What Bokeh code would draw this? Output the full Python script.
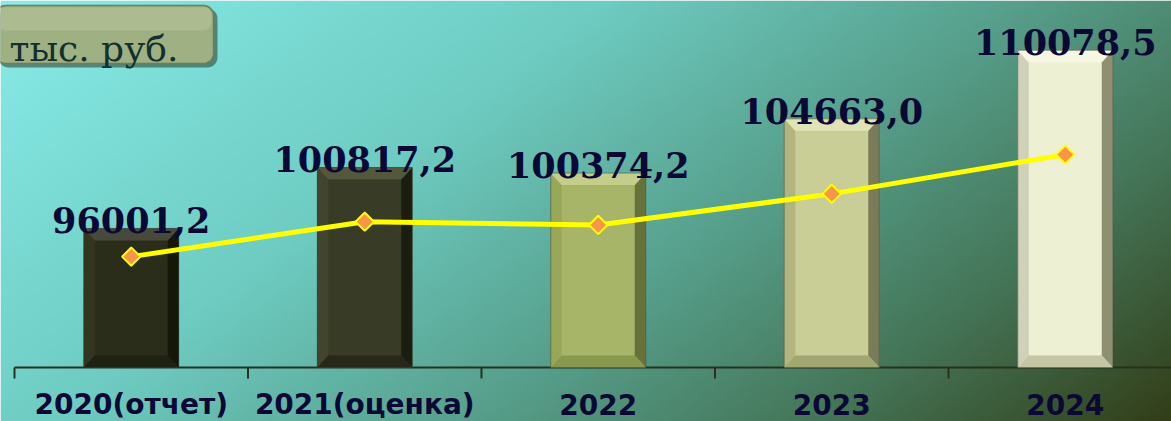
import numpy as np
from bokeh.plotting import figure
from bokeh.models import Range1d, ColumnDataSource
from bokeh.core.properties import value
from bokeh.embed import file_html
from bokeh.resources import INLINE

# ---------------- data ----------------
categories = ["2020(отчет)", "2021(оценка)", "2022", "2023", "2024"]
bar_values = [96001.2, 100817.2, 100374.2, 104663.0, 110078.5]
line_values = [96001.2, 100817.2, 100374.2, 104663.0, 110078.5]
unit_label = "тыс. руб."

# ---------------- styles ----------------
face_c = ["#2b2d1b", "#383c26", "#a7b568", "#c9cd96", "#eef0d3"]
top_c = ["#47493a", "#53573b", "#c4ce8a", "#e0e3b4", "#f7f8e4"]
left_c = ["#33351f", "#41452d", "#98a758", "#b2b67e", "#cfd1b8"]
right_c = ["#16170b", "#1b1d0f", "#66723a", "#7a7c58", "#8f8f72"]
bot_c = ["#1f2112", "#27281a", "#8a984e", "#a2a670", "#c4c6a4"]

W, H = 1171, 421
XPX = 233.5            # pixels per category
X0 = -130.75 / XPX
X1 = X0 + W / XPX
BASE = 85000.0         # value axis minimum
YPX = 79.08            # value units per pixel
BASE_PY = 367          # pixel row of the axis
Y1 = BASE + BASE_PY * YPX
Y0 = BASE - (H - BASE_PY) * YPX
BASE2 = 80700.0
Y2PX = 138.0
Y2_1 = BASE2 + BASE_PY * Y2PX
Y2_0 = BASE2 - (H - BASE_PY) * Y2PX

def px2x(px):
    return X0 + px / XPX

def py2y(py):
    return Y1 - py * YPX

p = figure(width=W, height=H, x_range=Range1d(X0, X1), y_range=Range1d(Y0, Y1),
           x_axis_type=None, y_axis_type=None, toolbar_location=None,
           output_backend="svg", min_border=0)
p.extra_y_ranges = {"line": Range1d(Y2_0, Y2_1)}
p.outline_line_color = None
p.background_fill_color = None
p.border_fill_color = None

# ---------------- background gradient ----------------
nx, ny = 390, 140
u = np.linspace(0, 1, nx)[None, :]
v = np.linspace(1, 0, ny)[:, None]   # row 0 is bottom
t = np.clip(0.68 * u + 0.32 * v, 0, 1)
stops_t = [0.0, 0.35, 0.6, 0.8, 1.0]
stops_c = np.array([[136, 236, 232], [110, 204, 194], [86, 158, 138],
                    [68, 116, 86], [50, 62, 24]], dtype=float)
img = np.zeros((ny, nx), dtype=np.uint32)
view = img.view(dtype=np.uint8).reshape((ny, nx, 4))
for k in range(3):
    view[:, :, k] = np.interp(t, stops_t, stops_c[:, k]).astype(np.uint8)
view[:, :, 3] = 255
p.image_rgba(image=[img], x=X0, y=Y0, dw=X1 - X0, dh=Y1 - Y0)

# ---------------- axis ----------------
p.segment(x0=[-0.5], y0=[BASE], x1=[X1], y1=[BASE], line_color="#28301e", line_width=2)
ticks = [i - 0.5 for i in range(len(categories) + 1)]
p.segment(x0=ticks, y0=[BASE] * len(ticks), x1=ticks, y1=[BASE - 11 * YPX] * len(ticks),
          line_color="#28301e", line_width=2)

# ---------------- bars (bevelled) ----------------
bw = 95 / XPX
bx = 11 / XPX
by = 12 * YPX
xs_t, ys_t, xs_b, ys_b, xs_l, ys_l, xs_r, ys_r = [], [], [], [], [], [], [], []
for i, val in enumerate(bar_values):
    x0, x1, y0, y1 = i - bw / 2, i + bw / 2, BASE, val
    xs_t.append([x0, x1, x1 - bx, x0 + bx]); ys_t.append([y1, y1, y1 - by, y1 - by])
    xs_b.append([x0, x1, x1 - bx, x0 + bx]); ys_b.append([y0, y0, y0 + by, y0 + by])
    xs_l.append([x0, x0, x0 + bx, x0 + bx]); ys_l.append([y0, y1, y1 - by, y0 + by])
    xs_r.append([x1, x1, x1 - bx, x1 - bx]); ys_r.append([y0, y1, y1 - by, y0 + by])
idx = list(range(len(bar_values)))
p.quad(left=[i - bw / 2 for i in idx], right=[i + bw / 2 for i in idx],
       bottom=[BASE] * len(idx), top=bar_values, fill_color=face_c, line_color=None)
p.patches(xs_l, ys_l, fill_color=left_c, line_color=None)
p.patches(xs_r, ys_r, fill_color=right_c, line_color=None)
p.patches(xs_b, ys_b, fill_color=bot_c, line_color=None)
p.patches(xs_t, ys_t, fill_color=top_c, line_color=None)
p.quad(left=[i - bw / 2 for i in idx], right=[i + bw / 2 for i in idx],
       bottom=[BASE] * len(idx), top=bar_values, fill_color=None,
       line_color="#3a4030", line_alpha=0.5, line_width=1)

# ---------------- line ----------------
p.line(idx, line_values, y_range_name="line", line_color="#ffff00", line_width=5)
p.scatter(idx, line_values, y_range_name="line", marker="square", angle=np.pi / 4,
          size=13, fill_color="#f79646", line_color="#ffff00", line_width=2)

# ---------------- value labels ----------------
lab = ColumnDataSource(dict(x=idx, y=[vv + 8 * YPX for vv in bar_values],
                            t=[f"{vv:.1f}".replace(".", ",") for vv in bar_values]))
p.text(x="x", y="y", text="t", source=lab, text_font=value("DejaVu Serif"),
       text_font_style="bold", text_font_size="35px", text_align="center",
       text_baseline="alphabetic", text_color="#0c0836")

# ---------------- category labels ----------------
p.text(x=idx, y=[py2y(404)] * len(idx), text=categories, text_font=value("DejaVu Sans"),
       text_font_style="bold", text_font_size="28px", text_align="center",
       text_baseline="alphabetic", text_color="#0c0836")

# ---------------- unit box ----------------
def rrect(x0, y0, x1, y1, r, n=8):
    pts = []
    for cx, cy, a0 in [(x1 - r, y0 + r, -90), (x1 - r, y1 - r, 0), (x0 + r, y1 - r, 90), (x0 + r, y0 + r, 180)]:
        for a in np.linspace(a0, a0 + 90, n):
            pts.append((cx + r * np.cos(np.radians(a)), cy + r * np.sin(np.radians(a))))
    return [px2x(q[0]) for q in pts], [py2y(q[1]) for q in pts]

sx, sy = rrect(-2, 8, 217, 67, 10)
p.patch(sx, sy, fill_color="#2c3a28", fill_alpha=0.55, line_color=None)
mx, my = rrect(-5, 5, 213, 63, 10)
p.patch(mx, my, fill_color="#9fb082", line_color="#6f7d52", line_width=1.5)
hx, hy = rrect(-3, 7, 211, 30, 8)
p.patch(hx, hy, fill_color="#afbf93", fill_alpha=0.8, line_color=None)
p.text(x=[px2x(9)], y=[py2y(48)], text=[unit_label], text_font=value("DejaVu Serif"),
       text_font_size="36px", text_align="left", text_baseline="alphabetic",
       text_color="#123030")

open("out.html", "w").write(file_html(p, INLINE))
